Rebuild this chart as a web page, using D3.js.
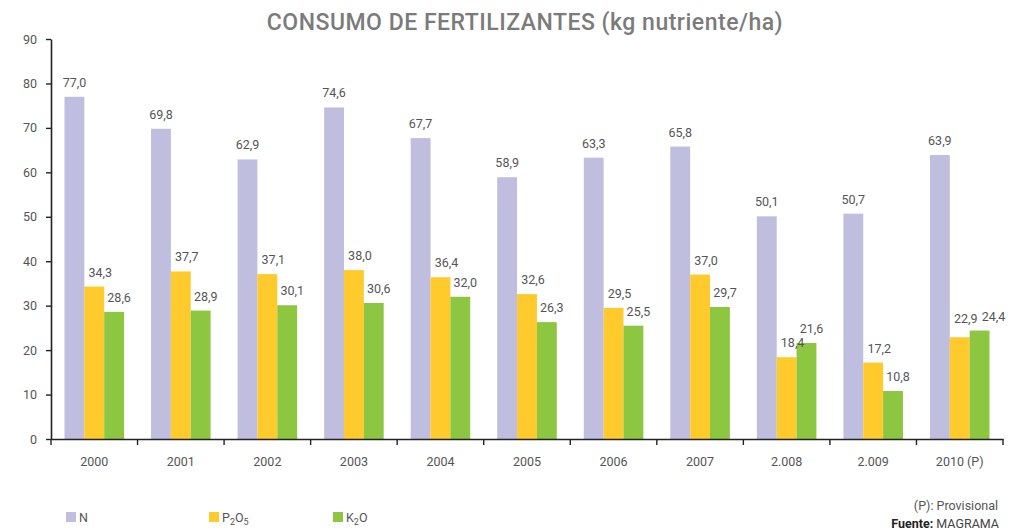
<!DOCTYPE html>
<head>
  <meta charset="utf-8">
  <script src="https://d3js.org/d3.v7.min.js"></script>
  <style>
    body { margin: 0; background: #fff; }
    text { font-family: Roboto, "Open Sans", sans-serif; }
  </style>
</head>
<body>
  <div id="chart"></div>
<script>
  // data
  const years = ["2000", "2001", "2002", "2003", "2004", "2005", "2006", "2007", "2.008", "2.009", "2010 (P)"];
  const seriesKeys = ["N", "P2O5", "K2O"];
  const nValues = [77.0, 69.8, 62.9, 74.6, 67.7, 58.9, 63.3, 65.8, 50.1, 50.7, 63.9];
  const pValues = [34.3, 37.7, 37.1, 38.0, 36.4, 32.6, 29.5, 37.0, 18.4, 17.2, 22.9];
  const kValues = [28.6, 28.9, 30.1, 30.6, 32.0, 26.3, 25.5, 29.7, 21.6, 10.8, 24.4];
  const yTicks = [0, 10, 20, 30, 40, 50, 60, 70, 80, 90];

  const W = 1027, H = 530;
  const margin = {top: 39, right: 24, bottom: 91, left: 51},
    width = W - margin.left - margin.right,
    height = H - margin.top - margin.bottom;

  const color = d3.scaleOrdinal().domain(seriesKeys).range(["#bfbedf", "#ffca2b", "#8dc641"]);
  const labelShift = {N: 0, P2O5: 6, K2O: 5};

  const rows = years.map((y, i) => ({year: y, N: nValues[i], P2O5: pValues[i], K2O: kValues[i]}));
  const fmt = v => d3.format(".1f")(v).replace(".", ",");

  const svg = d3.select("#chart").append("svg")
    .attr("width", W).attr("height", H);

  // title
  svg.append("text")
    .attr("x", 525).attr("y", 30)
    .attr("text-anchor", "middle")
    .style("font-size", "23px").style("font-weight", 500)
    .style("letter-spacing", "0.5px")
    .style("fill", "#7b7b7b")
    .text("CONSUMO DE FERTILIZANTES (kg nutriente/ha)");

  const g = svg.append("g").attr("transform", `translate(${margin.left},${margin.top})`);

  const x0 = d3.scaleBand().domain(years).range([0, width]).padding(0);
  const x1 = d3.scaleBand().domain(seriesKeys).range([0, x0.bandwidth()]).paddingInner(0).paddingOuter(0.68);
  const y = d3.scaleLinear().domain([0, 90]).range([height, 0]);

  // bars
  const groups = g.selectAll(".grp").data(rows).join("g")
    .attr("transform", d => `translate(${x0(d.year)},0)`);

  groups.selectAll("rect")
    .data(d => seriesKeys.map(k => ({key: k, value: d[k]})))
    .join("rect")
    .attr("x", d => x1(d.key))
    .attr("y", d => y(d.value))
    .attr("width", x1.bandwidth())
    .attr("height", d => height - y(d.value))
    .attr("fill", d => color(d.key));

  // value labels; when P and K are almost level, push K label right and P label up a bit
  groups.selectAll(".lbl")
    .data(d => seriesKeys.map(k => ({key: k, value: d[k], row: d})))
    .join("text")
    .attr("x", d => {
      let dx = labelShift[d.key];
      if (d.key === "K2O" && Math.abs(d.row.P2O5 - d.row.K2O) < 3) dx = 14;
      return x1(d.key) + x1.bandwidth() / 2 + dx;
    })
    .attr("y", d => {
      let dy = 10;
      if (d.key === "P2O5" && Math.abs(d.row.P2O5 - d.row.K2O) < 3) dy = 14;
      return y(d.value) - dy;
    })
    .attr("text-anchor", "middle")
    .style("font-size", "12.5px")
    .style("fill", "#555")
    .text(d => fmt(d.value));

  // y axis
  const yAxis = g.append("g")
    .call(d3.axisLeft(y).tickValues(yTicks).tickSize(5).tickPadding(9).tickSizeOuter(0));
  yAxis.select(".domain").attr("stroke", "#222").attr("stroke-width", 1.6);
  yAxis.selectAll(".tick line").attr("stroke", "#222").attr("stroke-width", 1.4);
  yAxis.selectAll("text").style("font-size", "12.5px").style("fill", "#555")
    .style("font-family", "Roboto, sans-serif");

  // x axis
  const xAxis = g.append("g").attr("transform", `translate(0,${height})`)
    .call(d3.axisBottom(x0).tickSize(0).tickPadding(18).tickSizeOuter(0));
  xAxis.select(".domain").attr("stroke", "#222").attr("stroke-width", 1.6);
  xAxis.selectAll("text").style("font-size", "12.5px").style("fill", "#555")
    .style("font-family", "Roboto, sans-serif");

  const bounds = years.map(d => x0(d)).concat([x0.range()[1]]);
  xAxis.selectAll(".bound").data(bounds).join("line")
    .attr("x1", d => d).attr("x2", d => d)
    .attr("y1", 0).attr("y2", 6)
    .attr("stroke", "#222").attr("stroke-width", 1.4);

  // legend
  const legendX = [66, 209, 333];
  const legend = svg.append("g").attr("transform", "translate(0,512)");
  seriesKeys.forEach((k, i) => {
    legend.append("rect")
      .attr("x", legendX[i]).attr("y", 0)
      .attr("width", 10).attr("height", 10)
      .attr("fill", color(k));
    const t = legend.append("text")
      .attr("x", legendX[i] + 13).attr("y", 10)
      .style("font-size", "12.5px").style("fill", "#555");
    if (k === "N") {
      t.text("N");
    } else {
      t.append("tspan").text(k[0]);
      t.append("tspan").attr("dy", 3).style("font-size", "9px").text(k[1]);
      t.append("tspan").attr("dy", -3).text(k[2]);
      t.append("tspan").attr("dy", 3).style("font-size", "9px").text(k[3]);
    }
  });

  // notes
  svg.append("text")
    .attr("x", 998).attr("y", 510)
    .attr("text-anchor", "end")
    .style("font-size", "12.5px").style("fill", "#555")
    .text("(P): Provisional");

  const src = svg.append("text")
    .attr("x", 999).attr("y", 528)
    .attr("text-anchor", "end")
    .style("font-size", "12.5px").style("fill", "#444");
  src.append("tspan").style("font-weight", 700).style("fill", "#222").text("Fuente: ");
  src.append("tspan").text("MAGRAMA");
</script>
</body>
